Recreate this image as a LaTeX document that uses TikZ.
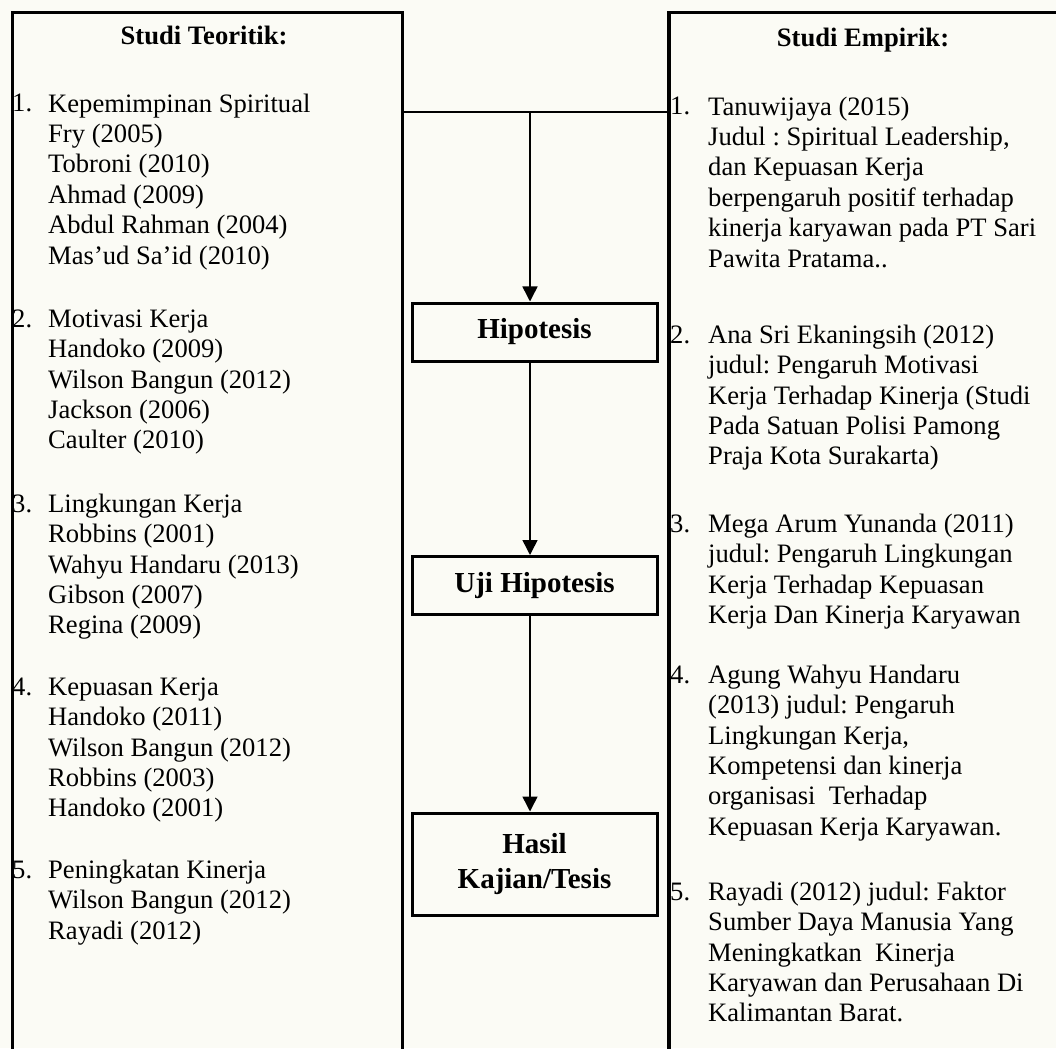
\documentclass[tikz,border=0pt]{standalone}
\usepackage{fontspec}
\setmainfont{Liberation Serif}
\usetikzlibrary{arrows.meta}
\definecolor{bgc}{RGB}{251,251,245}
\frenchspacing
\tikzset{
 bigbox/.style={draw, line width=3.5pt, minimum width=390pt, minimum height=1080pt, anchor=north west, inner sep=0pt},
 midbox/.style={draw, line width=3pt, minimum width=245pt, minimum height=58pt, inner sep=0pt, font=\bfseries\fontsize{29}{35}\selectfont, align=center},
 title/.style={anchor=base, inner sep=0pt, font=\bfseries\fontsize{26.6}{30.4}\selectfont},
 num/.style={anchor=base west, inner sep=0pt, font=\fontsize{26.6}{30.4}\selectfont},
 itemtext/.style={anchor=north west, inner sep=0pt, align=left, font=\fontsize{26.6}{30.4}\selectfont, yshift=21.28pt},
 conn/.style={line width=1.5pt},
 arr/.style={line width=1.5pt, -{Triangle[width=15pt,length=15pt]}}
}
\begin{document}
\frenchspacing
\begin{tikzpicture}[x=1pt,y=-1pt]
\clip (0,0) rectangle (1056,1048);
\fill[bgc] (0,0) rectangle (1056,1048);
% big boxes
\node[bigbox] (lbox) at (10.5,11) {};
\node[bigbox] (rbox) at (667,11) {};
\node[title] (ltitle) at (204,45) {Studi Teoritik:};
\node[title] (rtitle) at (863,47) {Studi Empirik:};
% left items
\node[num] (ln1) at (12,112) {1.};
\node[itemtext] (lt1) at (48,112) {\strut Kepemimpinan Spiritual\\Fry (2005)\\Tobroni (2010)\\Ahmad (2009)\\Abdul Rahman (2004)\\Mas’ud Sa’id (2010)};
\node[num] (ln2) at (12,327) {2.};
\node[itemtext] (lt2) at (48,327) {\strut Motivasi Kerja\\Handoko (2009)\\Wilson Bangun (2012)\\Jackson (2006)\\Caulter (2010)};
\node[num] (ln3) at (12,512) {3.};
\node[itemtext] (lt3) at (48,512) {\strut Lingkungan Kerja\\Robbins (2001)\\Wahyu Handaru (2013)\\Gibson (2007)\\Regina (2009)};
\node[num] (ln4) at (12,695) {4.};
\node[itemtext] (lt4) at (48,695) {\strut Kepuasan Kerja\\Handoko (2011)\\Wilson Bangun (2012)\\Robbins (2003)\\Handoko (2001)};
\node[num] (ln5) at (12,878) {5.};
\node[itemtext] (lt5) at (48,878) {\strut Peningkatan Kinerja\\Wilson Bangun (2012)\\Rayadi (2012)};
% right items
\node[num] (rn1) at (670,115) {1.};
\node[itemtext] (rt1) at (708,115) {\strut Tanuwijaya (2015)\\Judul : Spiritual Leadership,\\dan Kepuasan Kerja\\berpengaruh positif terhadap\\kinerja karyawan pada PT Sari\\Pawita Pratama..};
\node[num] (rn2) at (670,343) {2.};
\node[itemtext] (rt2) at (708,343) {\strut Ana Sri Ekaningsih (2012)\\judul: Pengaruh Motivasi\\Kerja Terhadap Kinerja (Studi\\Pada Satuan Polisi Pamong\\Praja Kota Surakarta)};
\node[num] (rn3) at (670,532) {3.};
\node[itemtext] (rt3) at (708,532) {\strut Mega Arum Yunanda (2011)\\judul: Pengaruh Lingkungan\\Kerja Terhadap Kepuasan\\Kerja Dan Kinerja Karyawan};
\node[num] (rn4) at (670,683) {4.};
\node[itemtext] (rt4) at (708,683) {\strut Agung Wahyu Handaru\\(2013) judul: Pengaruh\\Lingkungan Kerja,\\Kompetensi dan kinerja\\organisasi~ Terhadap\\Kepuasan Kerja Karyawan.};
\node[num] (rn5) at (670,900) {5.};
\node[itemtext] (rt5) at (708,900) {\strut Rayadi (2012) judul: Faktor\\Sumber Daya Manusia Yang\\Meningkatkan~ Kinerja\\Karyawan dan Perusahaan Di\\Kalimantan Barat.};
% middle boxes
\node[midbox] (hip) at (534.5,332) {Hipotesis};
\node[midbox] (uji) at (534.5,585.5) {Uji Hipotesis};
\node[midbox, minimum height=102pt] (has) at (534.5,864) {Hasil\\Kajian/Tesis};
% connectors
\coordinate (tL) at (lbox.east |- 0,112);
\coordinate (tR) at (rbox.west |- 0,112);
\coordinate (tM) at (530,112);
\draw[conn] (tL) -- (tR);
\draw[arr] (tM) -- (tM |- hip.north);
\draw[arr] (tM |- hip.south) -- (tM |- uji.north);
\draw[arr] (tM |- uji.south) -- (tM |- has.north);
\end{tikzpicture}
\end{document}
